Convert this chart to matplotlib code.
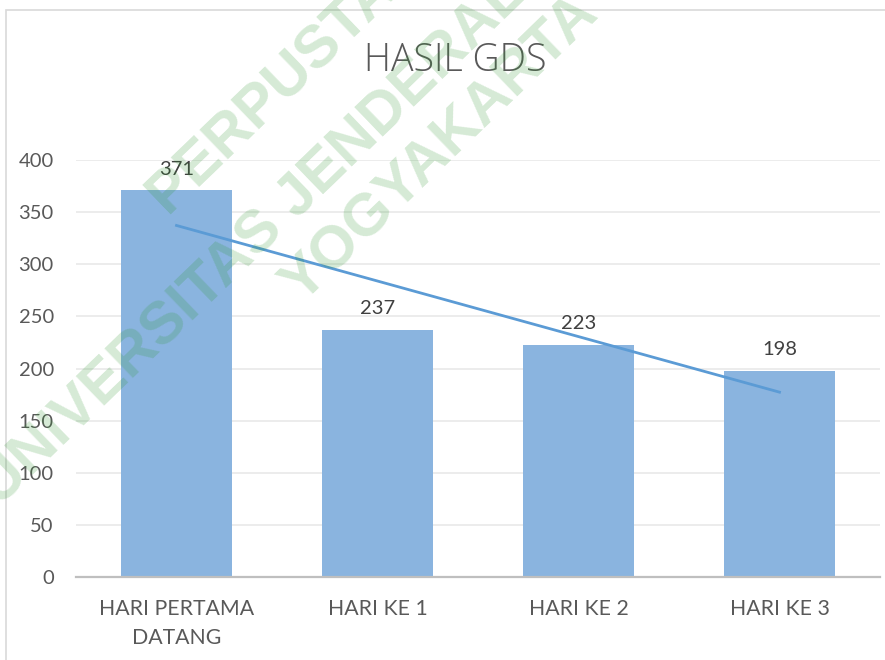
import numpy as np
import matplotlib.pyplot as plt
from matplotlib.patches import Rectangle

categories = ["HARI PERTAMA\nDATANG", "HARI KE 1", "HARI KE 2", "HARI KE 3"]
values = [371, 237, 223, 198]
yticks = [0, 50, 100, 150, 200, 250, 300, 350, 400]
watermark = ["PERPUSTAKAAN", "UNIVERSITAS JENDERAL ACHMAD YANI", "YOGYAKARTA"]

plt.rcParams['font.family'] = ['Lato', 'DejaVu Sans']

fig = plt.figure(figsize=(8.85, 6.6), dpi=100)
ax = fig.add_axes([76 / 885, 1 - 577 / 660, 804 / 885, 417 / 660])

x = np.arange(len(values))
ax.bar(x, values, width=0.55, color="#8ab4df", zorder=2)

# linear trendline like in Excel
k, b = np.polyfit(x, values, 1)
ax.plot(x, k * x + b, color="#5b9bd5", lw=2.0, zorder=3)

for xi, v in zip(x, values):
    ax.annotate(str(v), (xi, v), xytext=(0, 9), textcoords="offset points",
                ha="center", va="bottom", fontsize=14.5, color="#404040")

ax.set_xlim(-0.5, len(values) - 0.5)
ax.set_ylim(0, 400)
ax.set_yticks(yticks)
ax.set_xticks(x)
ax.set_xticklabels(categories, fontsize=15.3, color="#595959", linespacing=1.55)
ax.tick_params(axis="y", length=0, pad=16, labelsize=14.5, labelcolor="#595959")
ax.tick_params(axis="x", length=0, pad=16)
ax.grid(axis="y", color="#ebebeb", lw=1.3, zorder=0)
ax.set_axisbelow(True)
for s in ["top", "right", "left"]:
    ax.spines[s].set_visible(False)
ax.spines["bottom"].set_color("#bfbfbf")
ax.spines["bottom"].set_linewidth(1.6)

fig.text(455 / 885, 1 - 71 / 660, "HASIL GDS", ha="center", va="baseline",
         fontsize=27, color="#595959", family="Open Sans", fontweight="light")

# chart frame (cut off at the right and bottom)
fig.patches.append(Rectangle((6 / 885, -0.1), 2, 1.1 - 10 / 660, transform=fig.transFigure,
                             fill=False, edgecolor="#d9d9d9", lw=1.2))

# library watermark
starts = [(168, 215), (0, 508), (302, 305)]
for txt, (px, py) in zip(watermark, starts):
    fig.text(px / 885, 1 - py / 660, txt, rotation=44, rotation_mode="anchor",
             ha="left", va="baseline", fontsize=43, fontweight="bold",
             family="Liberation Sans", color=(0.18, 0.59, 0.18), alpha=0.2, zorder=10)

fig.savefig("out.png", dpi=100)
